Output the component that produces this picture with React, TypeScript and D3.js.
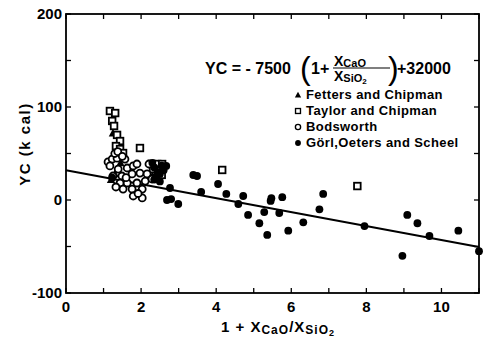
import React from 'react';
import * as d3 from 'd3';

// Fetters and Chipman (filled triangles)
const fettersPts: [number, number][] = [
  [1.25, 72], [1.35, 45], [1.3, 28], [1.45, 40], [1.2, 22], [2.3, 26],
];

// Taylor and Chipman (open squares)
const taylorPts: [number, number][] = [
  [1.17, 95.7], [1.31, 93.5], [1.23, 85], [1.28, 79.6], [1.36, 70], [1.44, 63.4],
  [1.33, 58], [1.44, 54.8], [1.52, 50.5], [1.97, 55.9], [2.29, 38.7], [2.43, 38.7],
  [2.56, 38.7], [2.32, 33.3], [2.45, 31.2], [2.55, 27], [4.16, 32.3], [7.76, 15],
];

// Bodsworth (open circles)
const bodsworthPts: [number, number][] = [
  [1.12, 40.9], [1.23, 44], [1.36, 45], [1.57, 44], [1.17, 36.6], [1.39, 33.3],
  [1.63, 34.4], [1.79, 36.6], [1.89, 38.7], [2.21, 38.7], [1.25, 25.8], [1.49, 25.8],
  [1.76, 28], [1.97, 29], [2.16, 28], [1.44, 18.3], [1.63, 18.3], [1.89, 18.3],
  [2.11, 20.4], [2.29, 22.6], [1.52, 11.8], [1.76, 11.8], [2.03, 11.8], [1.79, 4.3],
  [2.03, 2.2], [1.3, 50], [1.38, 52], [1.5, 47], [1.6, 24], [1.33, 14], [1.92, 7],
];

// Görl, Oeters and Scheel (filled circles)
const gorlPts: [number, number][] = [
  [1.23, 24], [2.3, 40], [2.35, 35], [2.45, 30], [2.4, 25], [2.5, 20], [2.55, 37],
  [2.5, 28], [2.6, 32], [2.35, 22], [2.67, 36.6], [3.39, 26.9], [3.49, 25.8],
  [4.05, 17.2], [2.77, 12.9], [2.69, 0], [2.8, 1], [2.99, -4.3], [3.6, 8.6],
  [4.27, 6.5], [4.72, 4.3], [4.59, -4.3], [4.85, -16], [5.15, -25], [5.28, -13],
  [5.36, -37.6], [5.47, 2], [5.45, -1], [5.76, 3], [5.68, -14], [5.92, -33],
  [6.32, -24], [6.75, -10], [6.85, 6.5], [7.95, -28], [9.09, -16], [9.36, -25],
  [9.68, -38.7], [8.96, -60], [10.45, -33], [11.0, -55],
];

// YC = -7500 (1 + Xcao/Xsio2) + 32000  (cal -> k cal)
const fitSlope = -7.5;
const fitIntercept = 32;
const fitRange = [0, 11];

const xTicks = [0, 2, 4, 6, 8, 10];
const yTicks = [-100, 0, 100, 200];

const legendNames = ['Fetters and Chipman', 'Taylor and Chipman', 'Bodsworth', 'Görl,Oeters and Scheel'];

const W = 487;
const H = 345;
const font = '"Liberation Sans", Arial, sans-serif';

function Marker({ kind, cx, cy, s = 1 }: { kind: number; cx: number; cy: number; s?: number }) {
  if (kind === 0) {
    const a = 4.2 * s;
    return <path d={`M${cx},${cy - a}L${cx + a},${cy + a * 0.8}L${cx - a},${cy + a * 0.8}Z`} fill="#000" />;
  }
  if (kind === 1) {
    const a = 3.3 * s;
    return <rect x={cx - a} y={cy - a} width={2 * a} height={2 * a} fill="#fff" stroke="#000" strokeWidth={1.8 * s} />;
  }
  if (kind === 2) {
    return <circle cx={cx} cy={cy} r={3.5 * s} fill="#fff" stroke="#000" strokeWidth={1.8 * s} />;
  }
  return <circle cx={cx} cy={cy} r={3.9 * s} fill="#000" />;
}

export default function App() {
  const x = d3.scaleLinear().domain([0, 11]).range([66, 479]);
  const y = d3.scaleLinear().domain([-100, 200]).range([293, 14]);
  const [x0, x1] = x.range();
  const [yb, yt] = y.range();

  const series = [fettersPts, taylorPts, bodsworthPts, gorlPts];
  const minorX = d3.range(0, 12, 1);
  const minorY = d3.range(-100, 201, 50);

  return (
    <svg width={W} height={H} style={{ position: 'absolute', left: 0, top: 0, background: '#fff' }}
      fontFamily={font}>
      <rect width={W} height={H} fill="#fff" />

      {/* frame */}
      <rect x={x0} y={yt} width={x1 - x0} height={yb - yt} fill="none" stroke="#000" strokeWidth={1.8} />

      {/* inward ticks */}
      {minorX.map(v => (
        <g key={'tx' + v}>
          <line x1={x(v)} x2={x(v)} y1={yb} y2={yb - 5} stroke="#000" strokeWidth={1.3} />
          <line x1={x(v)} x2={x(v)} y1={yt} y2={yt + 5} stroke="#000" strokeWidth={1.3} />
        </g>
      ))}
      {minorY.map(v => (
        <g key={'ty' + v}>
          <line x1={x0} x2={x0 + 5} y1={y(v)} y2={y(v)} stroke="#000" strokeWidth={1.3} />
          <line x1={x1} x2={x1 - 5} y1={y(v)} y2={y(v)} stroke="#000" strokeWidth={1.3} />
        </g>
      ))}

      {/* tick labels */}
      {xTicks.map(v => (
        <text key={'lx' + v} x={x(v)} y={312} textAnchor="middle" fontSize={15} fontWeight="bold">{v}</text>
      ))}
      {yTicks.map(v => (
        <text key={'ly' + v} x={62} y={y(v) + 5} textAnchor="end" fontSize={15} fontWeight="bold">
          {v < 0 ? '-' + Math.abs(v) : v}
        </text>
      ))}

      {/* axis titles */}
      <text transform="translate(30,144) rotate(-90)" textAnchor="middle" fontSize={15} fontWeight="bold"
        letterSpacing={1.5}>YC (k cal)</text>
      <text x={221} y={332} fontSize={15} fontWeight="bold" letterSpacing={1}>
        1 + X<tspan fontSize={12} dy={2}>CaO</tspan><tspan dy={-2}>/X</tspan>
        <tspan fontSize={12} dy={2}>SiO</tspan><tspan fontSize={9} dy={2}>2</tspan>
      </text>

      {/* fit line */}
      <line x1={x(fitRange[0])} y1={y(fitSlope * fitRange[0] + fitIntercept)}
        x2={x(fitRange[1])} y2={y(fitSlope * fitRange[1] + fitIntercept)}
        stroke="#000" strokeWidth={2} />

      {/* points */}
      {series.map((pts, k) => pts.map((p, i) => (
        <Marker key={k + '-' + i} kind={k} cx={x(p[0])} cy={y(p[1])} />
      )))}

      {/* equation */}
      <g fontSize={16} fontWeight="bold">
        <text x={205} y={74}>YC = - 7500</text>
        <text x={300} y={79} fontSize={32} fontWeight="normal">(</text>
        <text x={311} y={74}>1+</text>
        <text x={334} y={66} fontSize={14}>X<tspan fontSize={11} dy={1}>CaO</tspan></text>
        <line x1={333} x2={390} y1={68} y2={68} stroke="#000" strokeWidth={1.2} />
        <text x={334} y={81} fontSize={14}>X<tspan fontSize={11} dy={1}>SiO</tspan><tspan fontSize={8} dy={2}>2</tspan></text>
        <text x={388} y={79} fontSize={32} fontWeight="normal">)</text>
        <text x={397} y={74}>+32000</text>
      </g>

      {/* legend */}
      {legendNames.map((name, i) => (
        <g key={name}>
          <Marker kind={i} cx={298} cy={95 + i * 16} s={0.75} />
          <text x={306} y={99 + i * 16} fontSize={13} fontWeight="bold" letterSpacing={0.4}>{name}</text>
        </g>
      ))}
    </svg>
  );
}
